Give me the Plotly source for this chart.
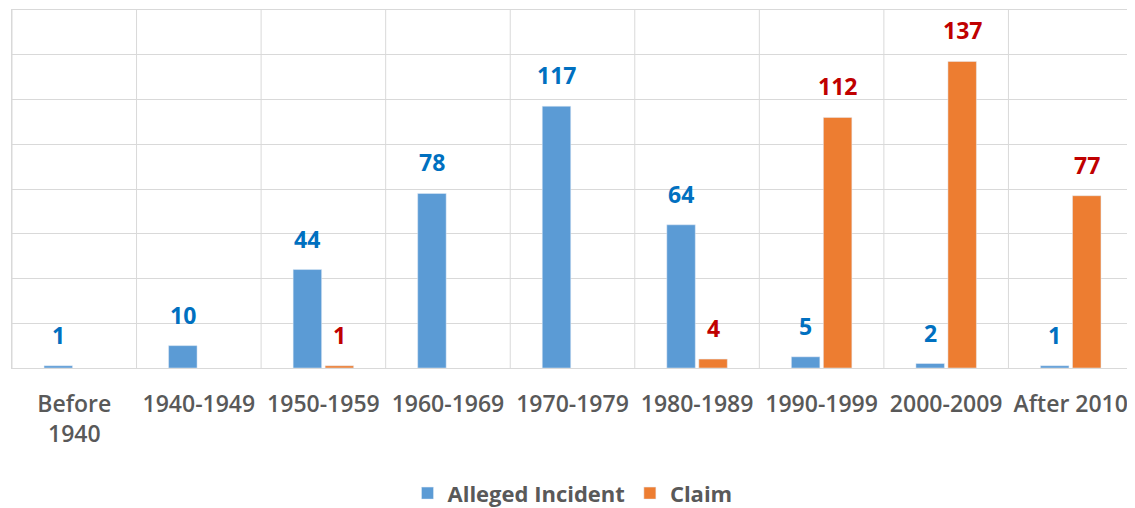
import plotly.graph_objects as go

categories = ["Before<br>1940", "1940-1949", "1950-1959", "1960-1969", "1970-1979",
              "1980-1989", "1990-1999", "2000-2009", "After 2010"]
alleged = [1, 10, 44, 78, 117, 64, 5, 2, 1]
claim = [None, None, 1, None, None, 4, 112, 137, 77]

BLUE = "#5B9BD5"
ORANGE = "#ED7D31"
BLUE_TXT = "#0070C0"
RED_TXT = "#C00000"
GRID = "#D9D9D9"

# page body has an 8px default margin, so the figure is sized to fit the window
W, H = 1127, 500
ML, MR, MT, MB = 4, 2, 2, 140
BARGAP = 0.486
BARGROUPGAP = 0.11

fig = go.Figure()
fig.add_trace(go.Bar(x=categories, y=alleged, name="Alleged Incident", marker_color=BLUE))
fig.add_trace(go.Bar(x=categories, y=claim, name="Claim", marker_color=ORANGE))

plot_w = W - ML - MR
cat_w = plot_w / len(categories)
group_w = cat_w * (1 - BARGAP)
slot = group_w / 2
offset = slot / 2

annotations = []
for series, color, sign in ((alleged, BLUE_TXT, -1), (claim, RED_TXT, 1)):
    for c, v in zip(categories, series):
        if v is None:
            continue
        annotations.append(dict(
            x=c, y=v, xref="x", yref="y", text=f"<b>{v}</b>", showarrow=False,
            xanchor="center", yanchor="bottom", xshift=sign * offset, yshift=13,
            font=dict(family="Open Sans", size=23, color=color)))

shapes = []
for i in range(len(categories) + 1):
    shapes.append(dict(type="line", xref="x", yref="paper", x0=i - 0.5, x1=i - 0.5,
                       y0=0, y1=1, line=dict(color=GRID, width=1), layer="below"))

fig.update_layout(
    width=W, height=H,
    margin=dict(l=ML, r=MR, t=MT, b=MB, autoexpand=False),
    paper_bgcolor="white", plot_bgcolor="white",
    barmode="group", bargap=BARGAP, bargroupgap=BARGROUPGAP,
    annotations=annotations, shapes=shapes,
    font=dict(family="Open Sans", color="#595959"),
    legend=dict(orientation="h", x=0.5, xanchor="center", y=-0.35, yanchor="middle",
                font=dict(size=22, color="#595959", weight=700), traceorder="normal"),
    xaxis=dict(showgrid=False, showline=True, mirror=True, linecolor=GRID, linewidth=1,
               tickfont=dict(size=23, color="#595959", weight=600), ticks="",
               ticklabelstandoff=15, automargin=False,
               range=[-0.5, len(categories) - 0.5], fixedrange=True),
    yaxis=dict(range=[0, 160], dtick=20, showgrid=True, gridcolor=GRID, gridwidth=1,
               showticklabels=False, showline=True, mirror=True, linecolor=GRID,
               zeroline=False, ticks="", automargin=False),
)

fig.write_html("out.html")
